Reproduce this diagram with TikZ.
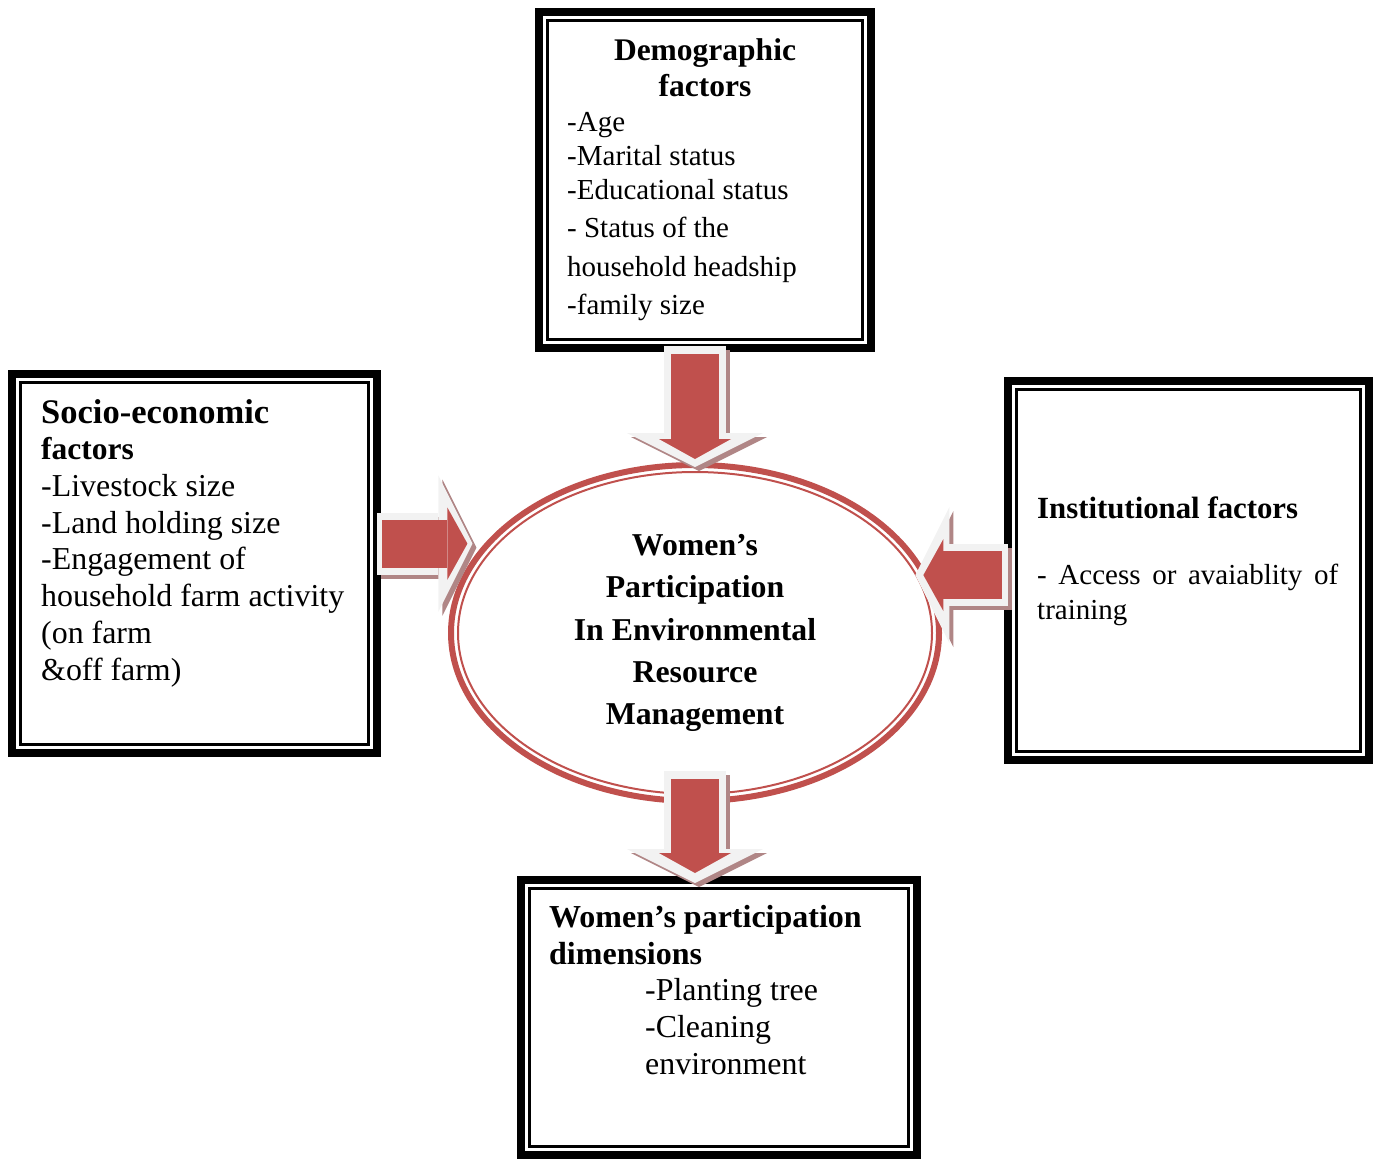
\documentclass[tikz,border=0pt]{standalone}
\usepackage{fontspec}
\setmainfont{Liberation Serif}
\usetikzlibrary{arrows.meta,shapes.geometric}
\definecolor{accred}{HTML}{C0504D}
\definecolor{rimgray}{HTML}{F2F2F2}
\definecolor{shadowred}{HTML}{B08686}
\newcommand\boxhead{\fontsize{31.5}{36.7}\selectfont\bfseries}
\newcommand\boxbody{\fontsize{29}{34.2}\selectfont}
\newcommand\bigbody{\fontsize{31.9}{36.7}\selectfont}
% block arrow: from, to, rim shortening (start, end), core shortening (start, end)
\newcommand\fatarrow[6]{%
  \draw[arrowshadow,shorten <=#3,shorten >=#4] #1 -- #2;
  \draw[arrowrim,shorten <=#3,shorten >=#4] #1 -- #2;
  \draw[arrowcore,shorten <=#5,shorten >=#6] #1 -- #2;}

\begin{document}
\begin{tikzpicture}[x=1pt,y=-1pt,
  factorbox/.style={draw,line width=8pt,inner sep=0pt},
  innerframe/.style={draw,line width=3pt,inner sep=0pt},
  arrowrim/.style={draw=rimgray,line width=62pt,-{Triangle[length=34pt,width=136pt,line width=0pt]}},
  arrowshadow/.style={arrowrim,draw=shadowred,transform canvas={shift={(4,4)}}},
  arrowcore/.style={draw=accred,line width=48pt,-{Triangle[length=20pt,width=72pt,line width=0pt]}}]
\useasboundingbox (0,0) rectangle (1374,1159);

% factor boxes, thick outer frame and thin inner frame
\node[factorbox,minimum width=332pt,minimum height=336pt] (demo) at (705,180) {};
\node[factorbox,minimum width=365pt,minimum height=379pt] (socio) at (194.5,563.5) {};
\node[factorbox,minimum width=361pt,minimum height=379pt] (inst) at (1188.5,570.5) {};
\node[factorbox,minimum width=396pt,minimum height=275pt] (dims) at (719,1017.5) {};
\node[innerframe,minimum width=315pt,minimum height=319pt] (demoin) at (demo.center) {};
\node[innerframe,minimum width=348pt,minimum height=362pt] (socioin) at (socio.center) {};
\node[innerframe,minimum width=344pt,minimum height=362pt] (instin) at (inst.center) {};
\node[innerframe,minimum width=379pt,minimum height=258pt] (dimsin) at (dims.center) {};

% central ellipse
\node[ellipse,draw=accred,line width=6pt,minimum width=488pt,minimum height=336pt,align=center,
  font=\fontsize{31.8}{42.2}\selectfont\bfseries] (core) at (695,633)
  {Women’s\\Participation\\In Environmental\\Resource\\Management};
\draw[accred,line width=2pt] (core.center) ellipse [x radius=237pt,y radius=161pt];

% box texts
\node[anchor=north,align=center,font=\boxhead,inner sep=0pt] (demohead) at (705,38) {Demographic\\factors};
\node[anchor=north west,align=left,font=\boxbody,inner sep=0pt] (demolist) at (567,112)
  {-Age\\-Marital status\\-Educational status\\[3.5pt]- Status of the\\[4.5pt]household headship\\[4.5pt]-family size};
\node[anchor=north west,align=left,font=\bigbody,inner sep=0pt] (sociotext) at (41,399)
  {{\fontsize{34.5}{36.7}\selectfont\bfseries Socio-economic}\\{\boxhead factors}\\-Livestock size\\-Land holding size\\-Engagement of\\household farm activity\\(on farm\\\&off farm)};
\node[anchor=north west,text width=301pt,align=justify,font=\fontsize{29}{35}\selectfont,inner sep=0pt] (insttext) at (1037,497)
  {{\fontsize{30.8}{35}\selectfont\bfseries Institutional factors}\\[31pt]- Access or avaiablity of training};
\node[anchor=north west,align=left,font=\bigbody,inner sep=0pt] (dimstext) at (549,905)
  {{\fontsize{32}{36.7}\selectfont\bfseries Women’s participation}\\{\fontsize{32}{36.7}\selectfont\bfseries dimensions}\\\hspace*{96pt}-Planting tree\\\hspace*{96pt}-Cleaning\\\hspace*{96pt}environment};

% arrows
\fatarrow{(demo.south -| core.north)}{(core.north)}{-6pt}{-5pt}{2pt}{3pt}
\fatarrow{(socio.east |- core.157)}{(core.157)}{-4pt}{12pt}{1pt}{17pt}
\fatarrow{(inst.west |- core.14)}{(core.14)}{-4pt}{-12pt}{2pt}{-4pt}
\fatarrow{(core.south)}{(core.south |- dims.north)}{-33pt}{-7pt}{-25pt}{3pt}
\end{tikzpicture}
\end{document}
